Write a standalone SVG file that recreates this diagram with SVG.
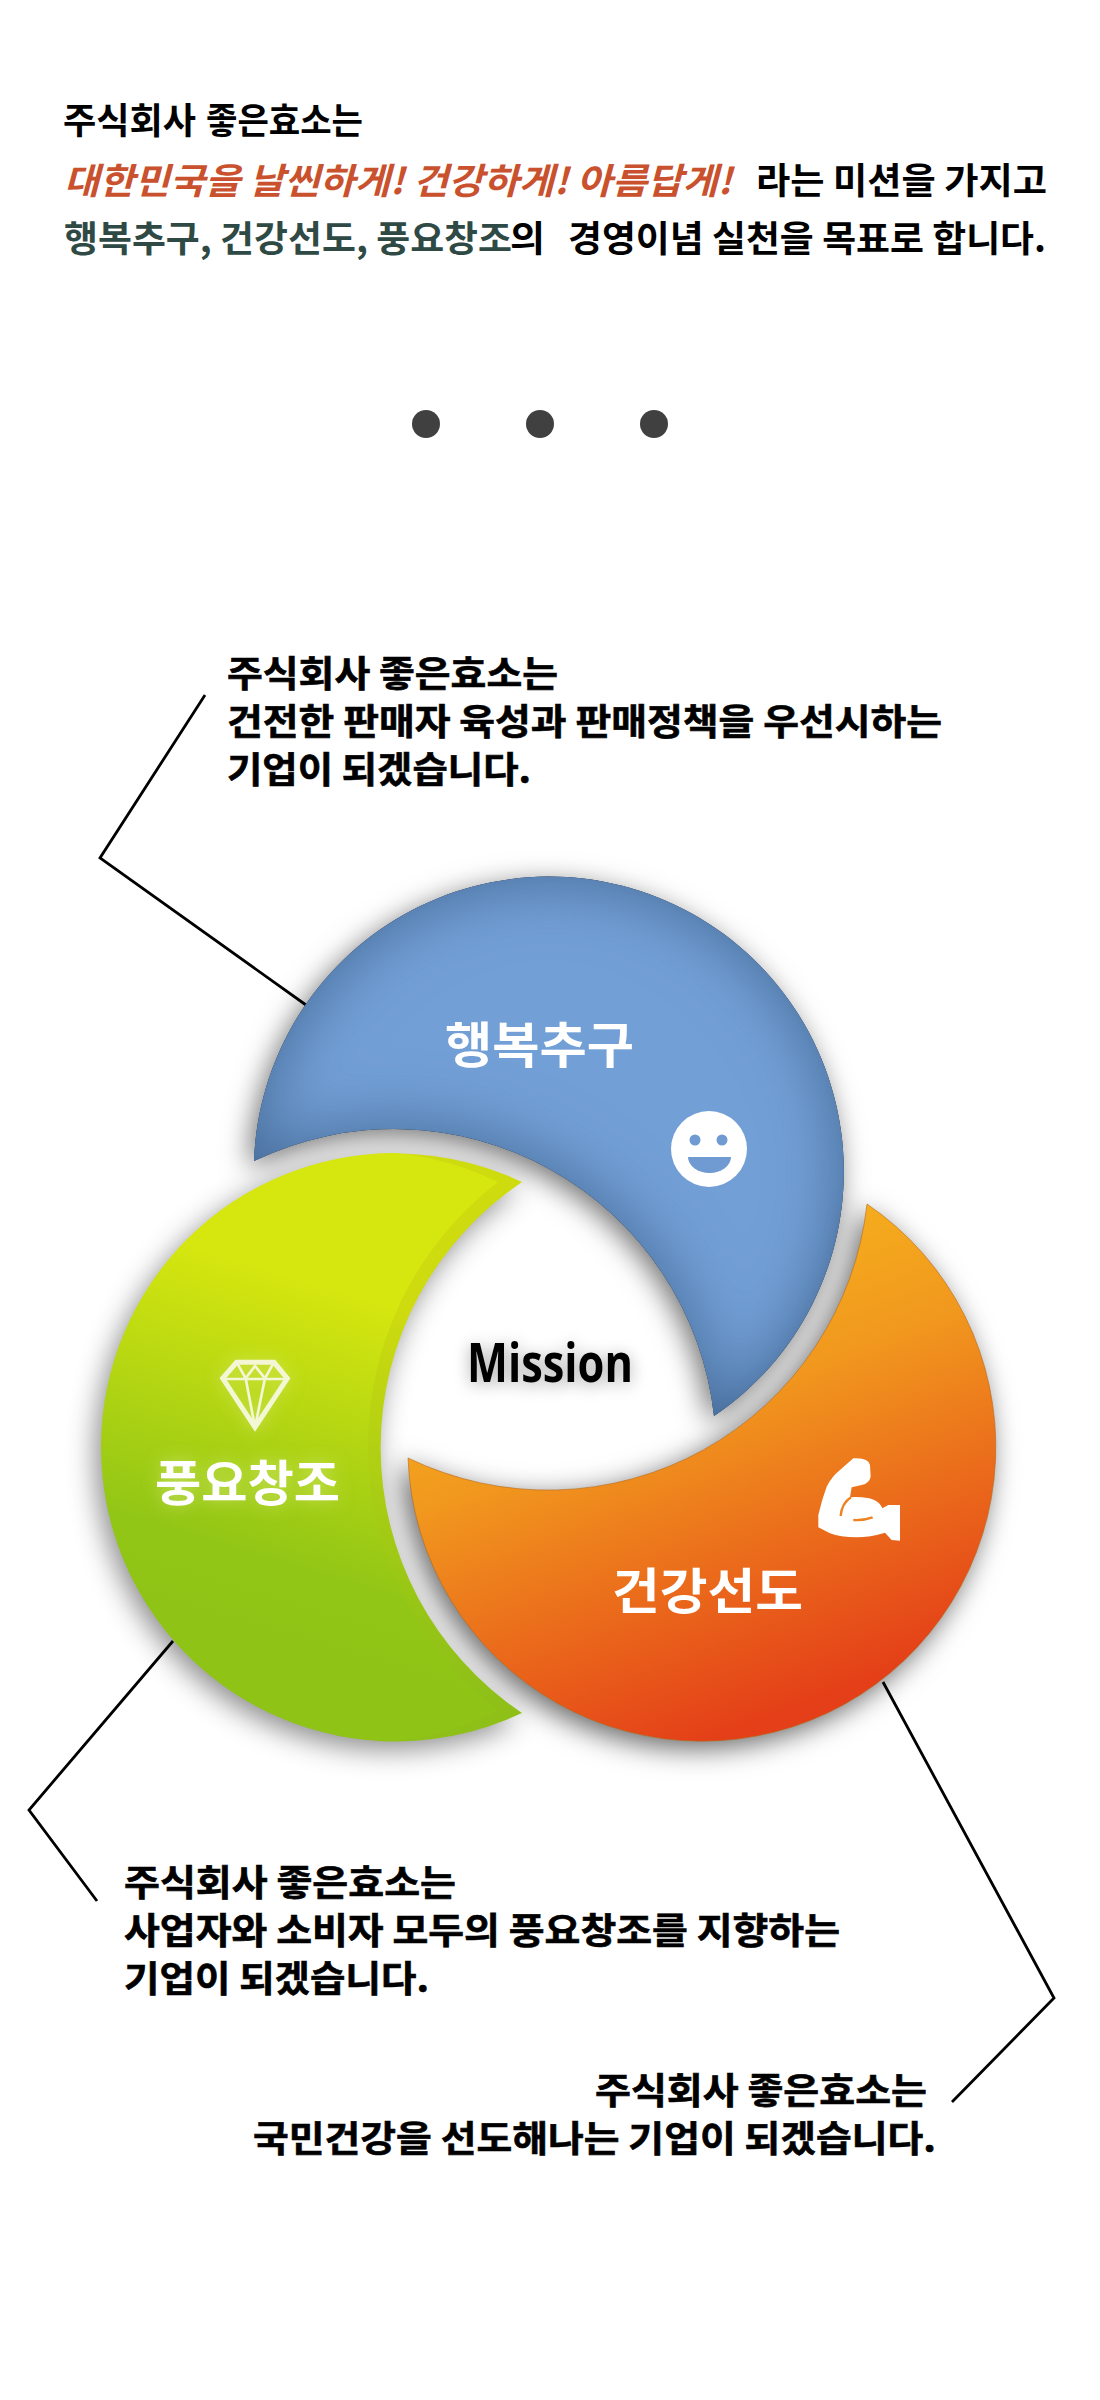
<svg xmlns="http://www.w3.org/2000/svg" width="1100" height="2400" viewBox="0 0 1100 2400">
<style>
text{font-family:"Noto Sans CJK KR","Noto Sans",sans-serif}
.p{font-size:36px;font-weight:700;fill:#000}
.b{font-size:36px;font-weight:700;fill:#000;stroke:#000;stroke-width:.6}
.o{fill:#c9512e;font-style:italic;stroke:none}
.g{fill:#2f4a45}
.t{font-size:49px;font-weight:700;fill:#fff}
.c{fill:none;stroke:#000;stroke-width:2.8}
</style>
<defs>
<linearGradient id="gO" gradientUnits="userSpaceOnUse" x1="650" y1="1215" x2="830" y2="1695"><stop offset="0" stop-color="#f7b71c"/><stop offset=".38" stop-color="#f1981e"/><stop offset="1" stop-color="#e43f18"/></linearGradient>
<linearGradient id="gG" gradientUnits="userSpaceOnUse" x1="300" y1="1640" x2="400" y2="1310"><stop offset="0" stop-color="#8fc416"/><stop offset=".2" stop-color="#92c616"/><stop offset="1" stop-color="#d6e60f"/></linearGradient>
<linearGradient id="gR" gradientUnits="userSpaceOnUse" x1="300" y1="1640" x2="400" y2="1310"><stop offset="0" stop-color="#8fc018"/><stop offset=".2" stop-color="#97c616"/><stop offset="1" stop-color="#cedb0f"/></linearGradient>
<filter id="fB" x="-20%" y="-20%" width="140%" height="140%" color-interpolation-filters="sRGB">
<feGaussianBlur in="SourceAlpha" stdDeviation="34" result="b"/>
<feComposite in="SourceAlpha" in2="b" operator="out" result="e"/>
<feFlood flood-color="#3a5c86" flood-opacity=".8"/><feComposite in2="e" operator="in" result="i"/>
<feDropShadow in="SourceAlpha" dx="-5" dy="7" stdDeviation="14" flood-color="#000" flood-opacity=".55" result="s"/>
<feMerge><feMergeNode in="s"/><feMergeNode in="SourceGraphic"/><feMergeNode in="i"/></feMerge>
</filter>
<filter id="fO" x="-20%" y="-20%" width="140%" height="140%" color-interpolation-filters="sRGB">
<feDropShadow dx="-6" dy="7" stdDeviation="14" flood-color="#000" flood-opacity=".6"/>
</filter>
<filter id="fG" x="-20%" y="-20%" width="140%" height="140%" color-interpolation-filters="sRGB">
<feDropShadow dx="-6" dy="8" stdDeviation="14" flood-color="#000" flood-opacity=".45"/>
</filter>
<filter id="glow" x="-30%" y="-30%" width="160%" height="160%"><feDropShadow dx="0" dy="0" stdDeviation="8" flood-color="#e6f2a0" flood-opacity=".5"/></filter>
<filter id="ms" x="-30%" y="-50%" width="160%" height="200%"><feDropShadow dx="0" dy="3" stdDeviation="8" flood-color="#000" flood-opacity=".35"/></filter>
</defs>
<rect width="1100" height="2400" fill="#fff"/>

<g id="intro">
<text class="p" x="63" y="134" textLength="133" lengthAdjust="spacingAndGlyphs">주식회사</text>
<text class="p" x="206" y="134" textLength="157" lengthAdjust="spacingAndGlyphs">좋은효소는</text>
<text class="p o" x="64" y="194" textLength="668" lengthAdjust="spacingAndGlyphs">대한민국을 날씬하게! 건강하게! 아름답게!</text>
<text class="p" x="756" y="194" textLength="291" lengthAdjust="spacingAndGlyphs">라는 미션을 가지고</text>
<text class="p g" x="64" y="252" textLength="448" lengthAdjust="spacingAndGlyphs">행복추구, 건강선도, 풍요창조</text>
<text class="p" x="510" y="252" textLength="35" lengthAdjust="spacingAndGlyphs">의</text>
<text class="p" x="568" y="252" textLength="478" lengthAdjust="spacingAndGlyphs">경영이념 실천을 목표로 합니다.</text>
</g>
<g id="dots" fill="#404040"><circle cx="426" cy="424" r="14"/><circle cx="540" cy="424" r="14"/><circle cx="654" cy="424" r="14"/></g>

<g id="connectors">
<polyline class="c" points="205,695 100,858 306,1005"/>
<polyline class="c" points="173,1641 29,1810 97,1901"/>
<polyline class="c" points="883,1682 1054,1998 952,2102"/>
</g>

<g id="node-blue">
<path filter="url(#fB)" fill="#729fd6" d="M254 1161A295 295 0 1 1 714 1416A322 322 0 0 0 254 1161Z"/>
<text class="t" x="445" y="1063" textLength="189" lengthAdjust="spacingAndGlyphs">행복추구</text>
<circle cx="709" cy="1149" r="38" fill="#fff"/>
<circle cx="695" cy="1140" r="5.500" fill="#6f9bd2"/><circle cx="722" cy="1140" r="5.500" fill="#6f9bd2"/>
<path d="M688 1157H731A21.500 16 0 0 1 688 1157Z" fill="#6f9bd2"/>
</g>

<g id="node-orange">
<path filter="url(#fO)" fill="url(#gO)" stroke="#b8691a" stroke-opacity=".6" stroke-width="1" d="M867 1204A294 294 0 1 1 408 1458A321 321 0 0 0 867 1204Z"/>
<text class="t" x="612" y="1609" textLength="191" lengthAdjust="spacingAndGlyphs">건강선도</text>
<g transform="translate(790 1440) scale(.3333)">
<path fill="#fff" d="M190 55Q235 52 240 75L242 110Q238 130 215 135L185 142L180 172Q195 170 215 172Q265 175 277 205L295 195L330 195L330 302L305 300L285 278Q240 292 200 292Q150 292 120 280L85 262L85 225Q95 180 110 140Q125 110 150 90Z"/>
<path fill="none" stroke="#f0811f" stroke-width="7" d="M183 172Q155 190 152 228M190 240Q220 242 248 232"/>
</g>
</g>

<g id="node-green">
<path filter="url(#fG)" fill="url(#gR)" d="M522 1182A294 294 0 1 0 522 1713A320 320 0 0 1 522 1182Z"/>
<path fill="url(#gG)" d="M498 1182A333 333 0 0 0 498 1710A294 294 0 0 1 395 1741A294 294 0 1 1 395 1153A300 300 0 0 1 498 1182Z"/>
<g filter="url(#glow)">
<text class="t" x="155" y="1501" textLength="185" lengthAdjust="spacingAndGlyphs">풍요창조</text>
<g transform="translate(200 1340) scale(.3333)" fill="none" stroke="#f3f7d4" stroke-linejoin="miter">
<polygon points="110,67 222,67 262,115 165,262 68,115" stroke-width="15"/>
<path stroke-width="8" d="M68 117H262M112 70L137 115L165 78L195 115L220 70M137 115L165 262L195 115"/>
</g>
</g>
</g>

<g id="node-mission">
<text filter="url(#ms)" x="467" y="1382" textLength="166" lengthAdjust="spacingAndGlyphs" font-size="54" font-weight="700" style="font-family:'Open Sans','Noto Sans',sans-serif" fill="#000">Mission</text>
</g>

<g id="label-top">
<text class="b" x="227" y="687" textLength="331" lengthAdjust="spacingAndGlyphs">주식회사 좋은효소는</text>
<text class="b" x="227" y="735" textLength="715" lengthAdjust="spacingAndGlyphs">건전한 판매자 육성과 판매정책을 우선시하는</text>
<text class="b" x="227" y="783" textLength="304" lengthAdjust="spacingAndGlyphs">기업이 되겠습니다.</text>
</g>
<g id="label-left">
<text class="b" x="124" y="1896" textLength="332" lengthAdjust="spacingAndGlyphs">주식회사 좋은효소는</text>
<text class="b" x="124" y="1944" textLength="716" lengthAdjust="spacingAndGlyphs">사업자와 소비자 모두의 풍요창조를 지향하는</text>
<text class="b" x="124" y="1992" textLength="305" lengthAdjust="spacingAndGlyphs">기업이 되겠습니다.</text>
</g>
<g id="label-right">
<text class="b" x="595" y="2104" textLength="332" lengthAdjust="spacingAndGlyphs">주식회사 좋은효소는</text>
<text class="b" x="253" y="2152" textLength="683" lengthAdjust="spacingAndGlyphs">국민건강을 선도해나는 기업이 되겠습니다.</text>
</g>
</svg>
